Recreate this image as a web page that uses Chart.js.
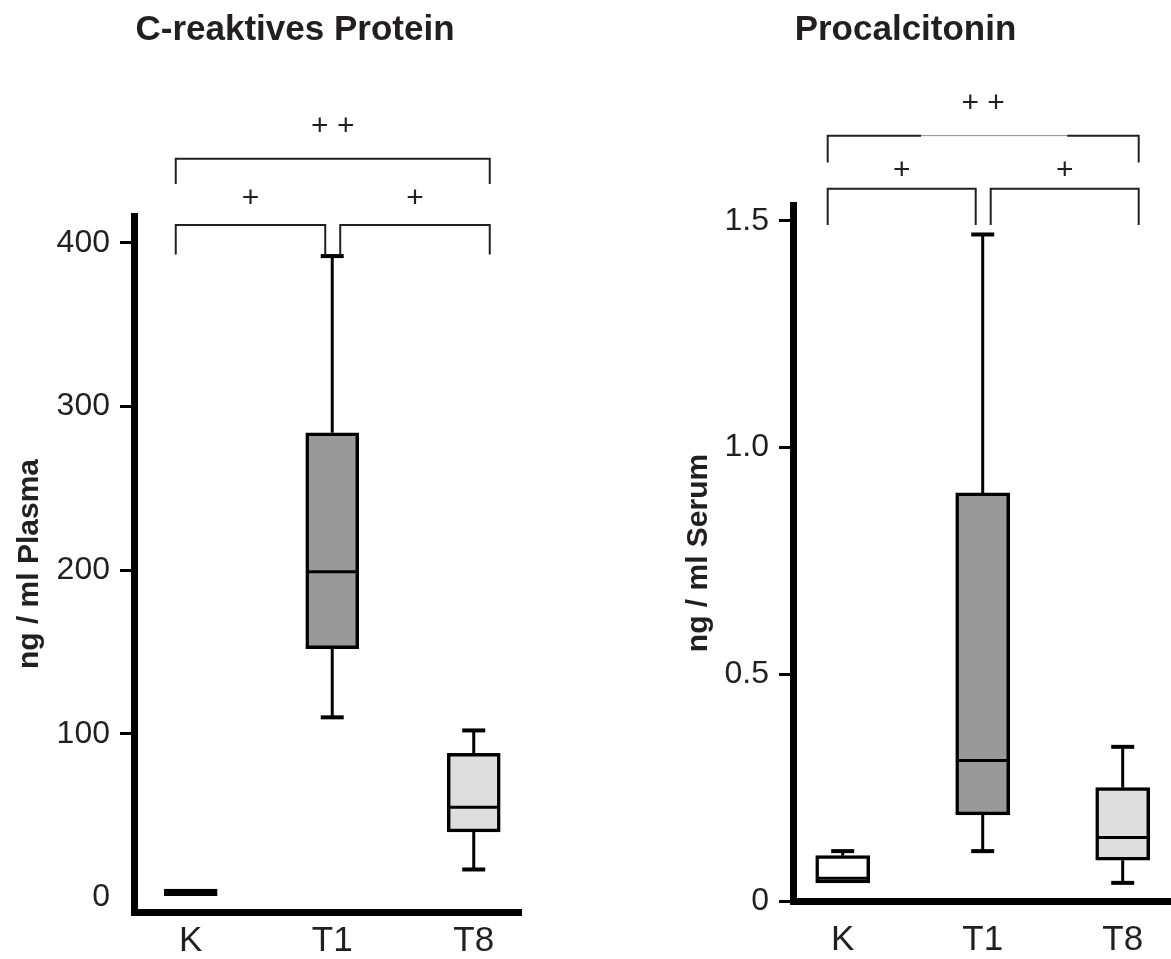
<!DOCTYPE html>
<html lang="de">
<head>
<meta charset="utf-8">
<title>C-reaktives Protein und Procalcitonin</title>
<script src="https://cdn.jsdelivr.net/npm/chart.js@4.4.1/dist/chart.umd.min.js"></script>
<style>
  html, body { margin: 0; padding: 0; background: #fff; }
  #wrap { position: relative; width: 1171px; height: 959px; overflow: hidden; }
  #crp { position: absolute; left: 0; top: 0; }
  #pct { position: absolute; left: 640px; top: 0; }
</style>
</head>
<body>
<div id="wrap">
  <canvas id="crp" width="590" height="959"></canvas>
  <canvas id="pct" width="531" height="959"></canvas>
</div>
<script>
const groups = ['K', 'T1', 'T8'];

// C-reaktives Protein (ng / ml Plasma)
const crpMin    = [0, 110, 17];
const crpQ1     = [0, 152, 40];
const crpMedian = [2.5, 199, 55];
const crpQ3     = [5, 284, 88];
const crpMax    = [5, 392, 102];
const crpTicks  = [0, 100, 200, 300, 400];
const crpTickLabels = ['0', '100', '200', '300', '400'];

// Procalcitonin (ng / ml Serum)
const pctMin    = [0.04, 0.11, 0.04];
const pctQ1     = [0.04, 0.19, 0.09];
const pctMedian = [0.05, 0.31, 0.14];
const pctQ3     = [0.10, 0.90, 0.25];
const pctMax    = [0.11, 1.47, 0.34];
const pctTicks  = [0, 0.5, 1.0, 1.5];
const pctTickLabels = ['0', '0.5', '1.0', '1.5'];

// Gruppenvergleiche: [von, bis, Kennzeichnung]
const crpSig = [[0, 1, '+'], [1, 2, '+'], [0, 2, '+ +']];
const pctSig = [[0, 1, '+'], [1, 2, '+'], [0, 2, '+ +']];

const FONT = '"Liberation Sans", Arial, Helvetica, sans-serif';
const INK = '#231f20';

// Whisker, Kappen und Median ueber den Boxen
const boxWhiskers = {
  id: 'boxWhiskers',
  afterDatasetsDraw(chart) {
    const {ctx, scales: {x, y}} = chart;
    const ds = chart.data.datasets[0];
    const st = ds.stats;
    const half = ds.barThickness / 2;
    const cap = 11.5;
    ctx.save();
    ctx.strokeStyle = '#000';
    const seg = (x1, y1, x2, y2) => {
      ctx.beginPath();
      ctx.moveTo(x1, y1);
      ctx.lineTo(x2, y2);
      ctx.stroke();
    };
    const whisker = (cx, from, to) => {
      if (from === to) return; // kein Whisker, wenn er in der Box liegt
      const yFrom = y.getPixelForValue(from);
      const yTo = y.getPixelForValue(to);
      ctx.lineWidth = 3;
      seg(cx, yFrom, cx, yTo);
      ctx.lineWidth = 4;
      seg(cx - cap, yTo, cx + cap, yTo);
    };
    st.min.forEach((lo, i) => {
      const cx = x.getPixelForValue(i + 1);
      whisker(cx, st.q3[i], st.max[i]);
      whisker(cx, st.q1[i], lo);
      const yMed = y.getPixelForValue(st.median[i]);
      ctx.lineWidth = 3;
      seg(cx - half + 2, yMed, cx + half - 2, yMed);
    });
    ctx.restore();
  }
};

// Klammern mit Signifikanzzeichen oberhalb der Boxen
function sigBrackets(pairs, lv) {
  return {
    id: 'sigBrackets',
    afterDraw(chart) {
      const {ctx, scales: {x, y}} = chart;
      const last = groups.length - 1;
      ctx.save();
      ctx.lineCap = 'butt';
      ctx.font = '30px ' + FONT;
      ctx.fillStyle = INK;
      ctx.textAlign = 'center';
      ctx.textBaseline = 'middle';
      pairs.forEach(([a, b, mark]) => {
        const level = (b - a > 1) ? lv.outer : lv.inner;
        const x1 = x.getPixelForValue(a + 1) + (a === 0 ? -15 : 8);
        const x2 = x.getPixelForValue(b + 1) + (b === last ? 16 : -7);
        const yTop = y.getPixelForValue(level.top);
        const yFoot = y.getPixelForValue(level.foot);
        ctx.strokeStyle = INK;
        ctx.lineWidth = 2;
        if (level.fade) {
          const xa = x1 + (x2 - x1) * level.fade[0];
          const xb = x1 + (x2 - x1) * level.fade[1];
          ctx.beginPath();
          ctx.moveTo(x1, yFoot); ctx.lineTo(x1, yTop); ctx.lineTo(xa, yTop);
          ctx.moveTo(xb, yTop); ctx.lineTo(x2, yTop); ctx.lineTo(x2, yFoot);
          ctx.stroke();
          ctx.strokeStyle = '#8a8a8a';
          ctx.lineWidth = 1;
          ctx.beginPath();
          ctx.moveTo(xa, yTop); ctx.lineTo(xb, yTop);
          ctx.stroke();
        } else {
          ctx.beginPath();
          ctx.moveTo(x1, yFoot); ctx.lineTo(x1, yTop);
          ctx.lineTo(x2, yTop); ctx.lineTo(x2, yFoot);
          ctx.stroke();
        }
        ctx.fillText(mark, (x1 + x2) / 2, y.getPixelForValue(level.mark));
      });
      ctx.restore();
    }
  };
}

function makeBoxChart(id, p) {
  const stats = {min: p.min, q1: p.q1, median: p.median, q3: p.q3, max: p.max};
  const scales = {
    x: {
      type: 'linear',
      offset: false,
      min: p.xMin,
      max: p.xMax,
      afterBuildTicks: s => { s.ticks = groups.map((g, i) => ({value: i + 1})); },
      afterFit: s => { s.height = p.xHeight; },
      grid: {display: false, drawTicks: false, offset: false},
      border: {display: true, width: 7, color: '#000'},
      ticks: {
        autoSkip: false,
        maxRotation: 0,
        padding: p.xPad,
        color: INK,
        font: {family: FONT, size: 35},
        callback: (v, i) => groups[i]
      }
    },
    y: {
      type: 'linear',
      min: p.yMin,
      max: p.yMax,
      afterBuildTicks: s => { s.ticks = p.ticks.map(v => ({value: v})); },
      afterFit: s => { s.width = p.yWidth; },
      grid: {
        display: true,
        drawOnChartArea: false,
        drawTicks: true,
        tickLength: 14,
        lineWidth: 3,
        color: c => (p.hideZeroTick && c.tick && c.tick.value === 0) ? 'rgba(0,0,0,0)' : '#000'
      },
      border: {display: true, width: 7, color: '#000'},
      ticks: {
        padding: 10,
        color: INK,
        font: {family: FONT, size: 32},
        callback: (v, i) => p.tickLabels[i]
      },
      title: {
        display: true,
        text: p.yTitle,
        color: INK,
        font: {family: FONT, size: 30, weight: 'bold'},
        padding: {top: p.yTitlePad, bottom: 0}
      }
    }
  };
  if (p.rightGap) {
    // leerer Rand rechts, damit der Titel ueber dem ganzen Feld zentriert bleibt
    scales.gap = {
      position: 'right',
      display: true,
      afterFit: s => { s.width = p.rightGap; },
      grid: {display: false},
      border: {display: false},
      ticks: {display: false}
    };
  }
  return new Chart(document.getElementById(id), {
    type: 'bar',
    data: {
      datasets: [{
        data: groups.map((g, i) => ({x: i + 1, y: [p.q1[i], p.q3[i]]})),
        stats: stats,
        backgroundColor: p.fills,
        borderColor: '#000',
        borderWidth: 3.5,
        borderSkipped: false,
        barThickness: p.boxWidth
      }]
    },
    options: {
      responsive: false,
      animation: false,
      events: [],
      layout: {padding: 0},
      plugins: {
        legend: {display: false},
        tooltip: {enabled: false},
        title: {
          display: true,
          text: p.title,
          color: INK,
          font: {family: FONT, size: 35, weight: 'bold'},
          padding: {top: 9, bottom: p.titleGap}
        }
      },
      scales: scales
    },
    plugins: [boxWhiskers, sigBrackets(p.sig, p.levels)]
  });
}

makeBoxChart('crp', {
  title: 'C-reaktives Protein',
  yTitle: 'ng / ml Plasma',
  min: crpMin, q1: crpQ1, median: crpMedian, q3: crpQ3, max: crpMax,
  ticks: crpTicks, tickLabels: crpTickLabels, sig: crpSig,
  fills: ['#000000', '#999999', '#dedede'],
  boxWidth: 53,
  xMin: 0.599, xMax: 3.334,
  yMin: -9, yMax: 416.5,
  yWidth: 134, xHeight: 47, xPad: 8, rightGap: 69,
  titleGap: 165, yTitlePad: 12, hideZeroTick: true,
  levels: {
    inner: {top: 411, foot: 393, mark: 427},
    outer: {top: 451.5, foot: 436, mark: 471}
  }
});

makeBoxChart('pct', {
  title: 'Procalcitonin',
  yTitle: 'ng / ml Serum',
  min: pctMin, q1: pctQ1, median: pctMedian, q3: pctQ3, max: pctMax,
  ticks: pctTicks, tickLabels: pctTickLabels, sig: pctSig,
  fills: ['#ffffff', '#999999', '#dedede'],
  boxWidth: 54,
  xMin: 0.645, xMax: 3.345,
  yMin: 0, yMax: 1.535,
  yWidth: 153, xHeight: 58, xPad: 18, rightGap: 0,
  titleGap: 154, yTitlePad: 41, hideZeroTick: false,
  levels: {
    inner: {top: 1.571, foot: 1.491, mark: 1.61},
    outer: {top: 1.688, foot: 1.629, mark: 1.758, fade: [0.3, 0.77]}
  }
});
</script>
</body>
</html>
